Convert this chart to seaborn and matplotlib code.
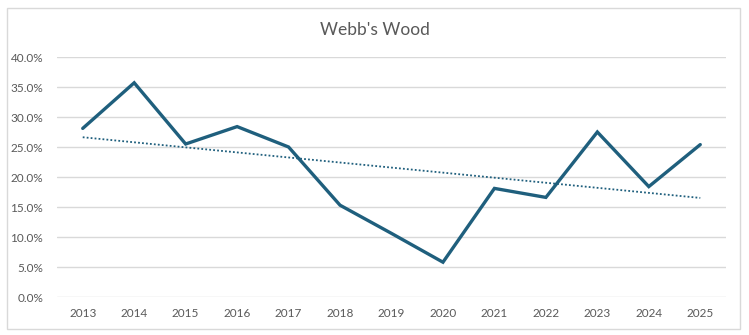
import numpy as np
import pandas as pd
import matplotlib
matplotlib.use("Agg")
import matplotlib.pyplot as plt
import seaborn as sns
from matplotlib.ticker import PercentFormatter, MultipleLocator
from matplotlib.patches import Rectangle

years = [2013, 2014, 2015, 2016, 2017, 2018, 2019, 2020, 2021, 2022, 2023, 2024, 2025]
values = [28.1, 35.7, 25.5, 28.4, 25.0, 15.3, 10.6, 5.8, 18.1, 16.6, 27.5, 18.4, 25.4]
title = "Webb's Wood"

sns.set_theme(style="white")
plt.rcParams['font.family'] = ['Lato', 'DejaVu Sans']

line_color = "#1f5f7d"
text_color = "#595959"
grid_color = "#d9d9d9"

df = pd.DataFrame({"year": [str(y) for y in years], "value": np.array(values) / 100})
df["pos"] = np.arange(len(df))

fig = plt.figure(figsize=(7.49, 3.35), dpi=100)
W, H = 749, 335
ax = fig.add_axes([57 / W, 1 - 297 / H, (726 - 57) / W, (297 - 57) / H])

# border around the chart area
fig.patches.append(Rectangle((7 / W, 1 - 329 / H), (740 - 7) / W, (329 - 8) / H,
                             transform=fig.transFigure, fill=False,
                             edgecolor=grid_color, linewidth=1.0))

sns.lineplot(data=df, x="pos", y="value", ax=ax, color=line_color, linewidth=2.4,
             solid_joinstyle="miter")

coef = np.polyfit(df["pos"], df["value"], 1)
trend = np.polyval(coef, df["pos"])
ax.plot(df["pos"], trend, linestyle=(0, (1, 1.2)), color=line_color, linewidth=1.3)

ax.set_xlim(-0.5, len(df) - 0.5)
ax.set_ylim(0, 0.4)
ax.yaxis.set_major_locator(MultipleLocator(0.05))
ax.yaxis.set_major_formatter(PercentFormatter(1.0, decimals=1))
ax.set_xticks(df["pos"])
ax.set_xticklabels(df["year"])
ax.grid(axis="y", color=grid_color, linewidth=1.0)
ax.set_axisbelow(True)
for s in ax.spines.values():
    s.set_visible(False)
ax.tick_params(axis="both", length=0, labelsize=8.5, colors=text_color)
ax.tick_params(axis="y", pad=10)
ax.tick_params(axis="x", pad=8)
ax.set_xlabel("")
ax.set_ylabel("")

fig.text(0.5, 1 - 30 / H, title, ha="center", va="center", fontsize=12.5, color=text_color)

fig.savefig("out.png", dpi=100)
